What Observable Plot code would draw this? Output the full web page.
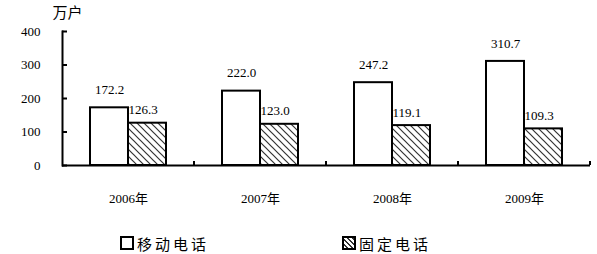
<!DOCTYPE html>
<html><head><meta charset="utf-8">
<script src="https://cdn.jsdelivr.net/npm/d3@7"></script>
<script src="https://cdn.jsdelivr.net/npm/@observablehq/plot@0.6"></script>
<style>
body{margin:0;background:#fff;width:597px;height:254px;overflow:hidden;position:relative;font-family:"Liberation Serif","Noto Sans CJK SC",serif;}
#legend{position:absolute;left:0;top:233px;width:597px;height:20px;font-size:15px;color:#000;}
.item{position:absolute;top:0;height:20px;display:flex;align-items:center;letter-spacing:3px;font-family:"Noto Sans CJK SC",sans-serif;}
.box{display:inline-block;width:10px;height:10px;border:2px solid #000;margin-right:3px;background:#fff;}
.box.hatch{background:repeating-linear-gradient(45deg,#fff 0 2px,#333 2px 3.5px);}
</style></head><body>
<div id="chart"></div>
<div id="legend"></div>
<script>
const years = ["2006年","2007年","2008年","2009年"];
const series = ["移动电话","固定电话"];
const mobile = [172.2, 222.0, 247.2, 310.7];
const fixed = [126.3, 123.0, 119.1, 109.3];
const yTicks = [0, 100, 200, 300, 400];
const unit = "万户";

const mobileData = years.map((y, i) => ({year: y, series: series[0], value: mobile[i]}));
const fixedData = years.map((y, i) => ({year: y, series: series[1], value: fixed[i]}));
const font = '"Liberation Serif","Noto Sans CJK SC",serif';

const chart = Plot.plot({
  width: 597, height: 215,
  marginLeft: 62, marginRight: 7, marginTop: 31, marginBottom: 50,
  style: {fontFamily: font, fontSize: "13px", color: "#000", background: "#fff", overflow: "visible"},
  fx: {domain: years, padding: 0, axis: null},
  x: {domain: series, paddingInner: 0, paddingOuter: 0.714, axis: null},
  y: {domain: [0, 400], axis: null},
  marks: [
    Plot.barY(mobileData, {fx: "year", x: "series", y: "value", fill: "#fff", stroke: "#000", strokeWidth: 2}),
    Plot.barY(fixedData, {fx: "year", x: "series", y: "value", fill: "url(#hatch)", stroke: "#000", strokeWidth: 2}),
    Plot.text(mobileData, {fx: "year", x: "series", y: "value", text: d => d.value.toFixed(1), dy: -18, fontSize: 13, letterSpacing: "1px"}),
    Plot.text(fixedData, {fx: "year", x: "series", y: "value", text: d => d.value.toFixed(1), dy: -13, dx: -19, textAnchor: "start", fontSize: 13, letterSpacing: "1px"}),
    Plot.ruleY([0], {strokeWidth: 2}),
    Plot.frame({anchor: "left", facetAnchor: "left", strokeWidth: 2}),
    Plot.axisY(yTicks, {tickSize: -5, tickPadding: 27, strokeWidth: 2, fontSize: 13, letterSpacing: "2px", label: null}),
    Plot.axisFx({anchor: "bottom", tickSize: 0, tickPadding: 28, label: null, fontSize: 13}),
    Plot.text([unit], {text: d => d, frameAnchor: "top-left", facetAnchor: "left", dx: -10, dy: -18, lineAnchor: "middle", textAnchor: "start", fontSize: 15})
  ]
});

// hatch pattern
const svg = d3.select(chart);
const defs = svg.insert("defs", ":first-child");
const pat = defs.append("pattern").attr("id", "hatch").attr("patternUnits", "userSpaceOnUse").attr("width", 7).attr("height", 7);
pat.append("rect").attr("width", 7).attr("height", 7).attr("fill", "#fff");
pat.append("path").attr("d", "M-1,-1L8,8M-1,6L1,8M6,-1L8,1").attr("stroke", "#333").attr("stroke-width", 1.2);

// small boundary ticks on the baseline
const fxs = chart.scale("fx"), ys = chart.scale("y");
const y0 = ys.apply(0);
svg.append("g").selectAll("line").data(years).join("line")
  .attr("x1", d => fxs.apply(d) + fxs.bandwidth).attr("x2", d => fxs.apply(d) + fxs.bandwidth)
  .attr("y1", y0 - 4).attr("y2", y0).attr("stroke", "#000").attr("stroke-width", 2);

document.getElementById("chart").appendChild(chart);

const legend = document.getElementById("legend");
const lx = [120, 342];
series.forEach((s, i) => {
  const it = document.createElement("div");
  it.className = "item";
  it.style.left = lx[i] + "px";
  it.innerHTML = `<span class="box${i ? " hatch" : ""}"></span>${s}`;
  legend.appendChild(it);
});
</script>
</body></html>
